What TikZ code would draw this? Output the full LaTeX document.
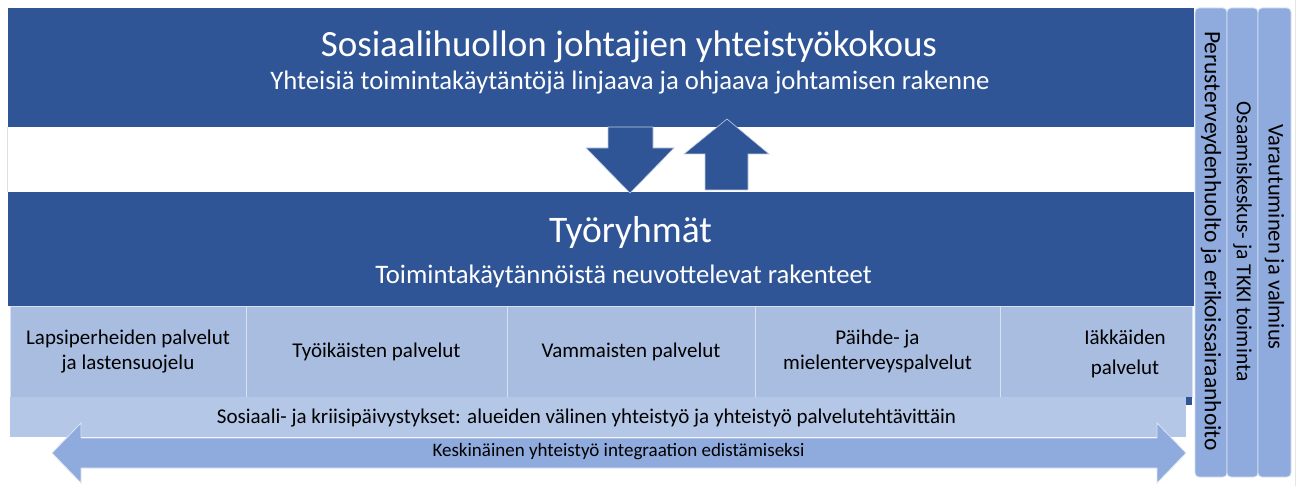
\documentclass[tikz,border=0pt]{standalone}
\usepackage{fontspec}
\setmainfont{Carlito}
\usepackage{xcolor}
\usepackage{tikz}
\usetikzlibrary{calc}
\definecolor{tummasin}{HTML}{2F5597}
\definecolor{palvsin}{HTML}{A9BDE0}
\definecolor{paivsin}{HTML}{B4C7E7}
\definecolor{nuolisin}{HTML}{8FAADC}
\tikzset{
	kaista/.style={rectangle,fill=tummasin,draw=none,inner sep=0pt},
	palvelu/.style={rectangle,fill=palvsin,draw=white!55!palvsin,line width=0.8pt,inner sep=0pt,align=center,font=\fontsize{21}{25}\selectfont},
	pystypalkki/.style={rectangle,rounded corners=4pt,fill=nuolisin,draw=white!65!nuolisin,line width=0.8pt,inner sep=0pt},
	pystyteksti/.style={rotate=-90,inner sep=0pt,font=\fontsize{22.5}{25}\selectfont},
	valkoteksti/.style={text=white,inner sep=0pt}
}
\begin{document}
\begin{tikzpicture}[x=1pt,y=-1pt]
		\useasboundingbox (0,0) rectangle (1297,486);
		\draw[gray!25,line width=0.6pt] (7.5,127) -- (7.5,192);
		\draw[gray!20,line width=0.6pt] (1295,0) -- (1295,486);
		% tummat kaistat
		\node[kaista,minimum width=1186,minimum height=119] (Johto) at (601,67.5) {};
		\node[kaista,minimum width=1186,minimum height=114] (Tyo) at (601,249) {};
		\node[valkoteksti,font=\fontsize{37}{40}\selectfont] (JohtoOts) at (629,47) {Sosiaalihuollon johtajien yhteistyökokous};
		\node[valkoteksti,font=\fontsize{26.7}{30}\selectfont] (JohtoAla) at (630,83) {Yhteisiä toimintakäytäntöjä linjaava ja ohjaava johtamisen rakenne};
		\node[valkoteksti,font=\fontsize{37.5}{40}\selectfont] (TyoOts) at (630.5,233) {Työryhmät};
		\node[valkoteksti,font=\fontsize{26.7}{30}\selectfont] (TyoAla) at (623.5,276) {Toimintakäytännöistä neuvottelevat rakenteet};
		% nuolet kaistojen valilla
		\fill[tummasin,draw=white!70!tummasin,line width=0.6pt]
			(608,127) -- (653,127) -- (653,148) -- (674,148) -- (630,193) -- (586,148) -- (608,148) -- cycle;
		\fill[tummasin,draw=white!70!tummasin,line width=0.6pt]
			(705,190) -- (705,154) -- (684,154) -- (727,119) -- (769,154) -- (748,154) -- (748,190) -- cycle;
		% palvelut
		\node[palvelu,minimum width=236,minimum height=91] (P1) at (128,351.5) {Lapsiperheiden palvelut\\ja lastensuojelu};
		\node[palvelu,minimum width=261,minimum height=91] (P2) at (376.5,351.5) {Työikäisten palvelut};
		\node[palvelu,minimum width=248,minimum height=91] (P3) at (631,351.5) {Vammaisten palvelut};
		\node[palvelu,minimum width=245,minimum height=91] (P4) at (877.5,351.5) {Päihde- ja\\mielenterveyspalvelut};
		\node[palvelu,minimum width=192,minimum height=91] (P5) at (1096,351.5) {};
		\node[palvelu,fill=none,draw=none,font=\fontsize{21}{30}\selectfont] (P5t) at (1125,354) {Iäkkäiden\\palvelut};
		% paivystykset
		\fill[tummasin] (1185,397) rectangle (1192,405);
		\node[rectangle,fill=paivsin,inner sep=0pt,minimum width=1176,minimum height=40] (Paiv) at (598,417) {};
		\node[inner sep=0pt,font=\fontsize{21}{24}\selectfont] (PaivT) at (586.5,418) {Sosiaali- ja kriisipäivystykset: alueiden välinen yhteistyö ja yhteistyö palvelutehtävittäin};
		% kaksisuuntainen nuoli
		\fill[nuolisin,draw=white!70!nuolisin,line width=0.8pt]
			(52,453) -- (81,423) -- (81,438) -- (1157,438) -- (1157,423) -- (1186,453)
			-- (1157,483) -- (1157,468) -- (81,468) -- (81,483) -- cycle;
		\node[inner sep=0pt,font=\fontsize{19}{22}\selectfont] (Kesk) at (618.5,452) {Keskinäinen yhteistyö integraation edistämiseksi};
		% pystypalkit
		\node[pystypalkki,minimum width=32,minimum height=469] (V1) at (1211,242.5) {};
		\node[pystypalkki,minimum width=31,minimum height=469] (V2) at (1242.5,242.5) {};
		\node[pystypalkki,minimum width=33,minimum height=469] (V3) at (1274.5,242.5) {};
		\node[pystyteksti,font=\fontsize{23.5}{25}\selectfont] (V1t) at (1211,241) {Perusterveydenhuolto ja erikoissairaanhoito};
		\node[pystyteksti,font=\fontsize{21.5}{25}\selectfont] (V2t) at (1242.5,241.5) {Osaamiskeskus- ja TKKI toiminta};
		\node[pystyteksti] (V3t) at (1274.5,237) {Varautuminen ja valmius};
\end{tikzpicture}
\end{document}
